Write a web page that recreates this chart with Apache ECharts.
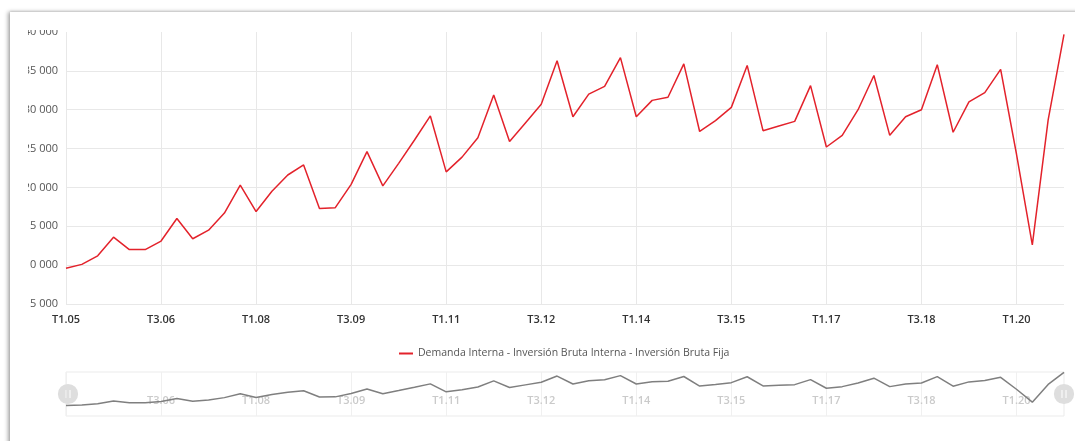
<!DOCTYPE html>
<html>
<head>
<meta charset="utf-8">
<script src="https://cdn.jsdelivr.net/npm/echarts@6/dist/echarts.min.js"></script>
<style>
  html, body { margin: 0; padding: 0; width: 1075px; height: 441px; background: #fff; overflow: hidden; }
  #card { position: absolute; left: 10px; top: 12px; width: 1100px; height: 470px; background: #fff;
          box-shadow: -2px 0 4px rgba(0,0,0,0.35), 0 -1px 2px rgba(0,0,0,0.08); }
  #chart { position: absolute; left: 28px; top: 30px; width: 1047px; height: 411px; }
</style>
</head>
<body>
<div id="card"></div>
<div id="chart"></div>
<script>
const categories = [
  'T1.05','T2.05','T3.05','T4.05','T1.06','T2.06','T3.06','T4.06',
  'T1.07','T2.07','T3.07','T4.07','T1.08','T2.08','T3.08','T4.08',
  'T1.09','T2.09','T3.09','T4.09','T1.10','T2.10','T3.10','T4.10',
  'T1.11','T2.11','T3.11','T4.11','T1.12','T2.12','T3.12','T4.12',
  'T1.13','T2.13','T3.13','T4.13','T1.14','T2.14','T3.14','T4.14',
  'T1.15','T2.15','T3.15','T4.15','T1.16','T2.16','T3.16','T4.16',
  'T1.17','T2.17','T3.17','T4.17','T1.18','T2.18','T3.18','T4.18',
  'T1.19','T2.19','T3.19','T4.19','T1.20','T2.20','T3.20','T4.20'
];
const seriesName = 'Demanda Interna - Inversión Bruta Interna - Inversión Bruta Fija';
const values = [
  9600, 10100, 11200, 13600, 12000, 12000, 13100, 16000,
  13400, 14500, 16700, 20300, 16900, 19500, 21600, 22900,
  17300, 17400, 20400, 24600, 20200, 23100, 26100, 29200,
  22000, 23900, 26400, 31900, 25900, 28300, 30700, 36300,
  29100, 32000, 33000, 36700, 29100, 31200, 31600, 35900,
  27200, 28600, 30300, 35700, 27300, 27900, 28500, 33100,
  25200, 26700, 30000, 34400, 26700, 29100, 30000, 35800,
  27100, 31000, 32200, 35200, 24300, 12600, 28700, 39700
];
const yMin = 5000, yMax = 40000, yStep = 5000;

const fmt = v => String(v).replace(/\B(?=(\d{3})+(?!\d))/g, ' ');
const FONT = '"Open Sans", "Noto Sans", sans-serif';

const chart = echarts.init(document.getElementById('chart'));
chart.setOption({
  animation: false,
  textStyle: { fontFamily: FONT },
  grid: [
    { left: 38, right: 11, top: 2, bottom: 137, outerBoundsMode: 'none', containLabel: false },
    { left: 38, right: 11, top: 342, height: 44, show: true, borderColor: '#ebebeb', borderWidth: 1, outerBoundsMode: 'none', containLabel: false }
  ],
  legend: {
    data: [seriesName],
    left: 366, top: 313,
    icon: 'rect', itemWidth: 14, itemHeight: 2,
    textStyle: { color: '#555', fontSize: 10.5, fontFamily: FONT }
  },
  xAxis: [
    {
      type: 'category', gridIndex: 0, data: categories, boundaryGap: false,
      axisLine: { show: false }, axisTick: { show: false },
      axisLabel: { interval: 5, color: '#333', fontSize: 11, fontWeight: 600, margin: 10, fontFamily: FONT },
      splitLine: { show: true, interval: 5, lineStyle: { color: '#e8e8e8', width: 1 } }
    },
    {
      type: 'category', gridIndex: 1, data: categories, boundaryGap: false,
      axisLine: { show: false }, axisTick: { show: false },
      axisLabel: { interval: 5, inside: true, showMinLabel: false, color: '#cacaca', fontSize: 11, fontWeight: 600, margin: 10, fontFamily: FONT },
      splitLine: { show: true, interval: 5, lineStyle: { color: '#f0f0f0', width: 1 } }
    }
  ],
  yAxis: [
    {
      type: 'value', gridIndex: 0, min: yMin, max: yMax, interval: yStep,
      axisLine: { show: false }, axisTick: { show: false },
      axisLabel: { color: '#555', fontSize: 11, margin: 8, formatter: fmt, fontFamily: FONT },
      splitLine: { show: true, showMaxLine: false, lineStyle: { color: '#e8e8e8', width: 1 } }
    },
    {
      type: 'value', gridIndex: 1, min: 0, max: yMax, show: false,
      splitLine: { show: false }
    }
  ],
  dataZoom: [{
    type: 'slider', xAxisIndex: 0, start: 0, end: 100,
    left: 38, right: 11, top: 342, height: 44,
    showDataShadow: false, showDetail: false, brushSelect: false,
    borderColor: 'transparent', backgroundColor: 'transparent',
    fillerColor: 'rgba(0,0,0,0)',
    moveHandleSize: 0,
    handleIcon: 'path://M0,-10A10,10,0,1,1,0,10A10,10,0,1,1,0,-10Z M-2.5,-4L-2.5,4L-1.5,4L-1.5,-4Z M1.5,-4L1.5,4L2.5,4L2.5,-4Z',
    handleSize: '46%',
    handleStyle: { color: '#dedede', borderColor: '#dedede', borderWidth: 0 },
    emphasis: { handleStyle: { color: '#dedede', borderColor: '#dedede' } }
  }],
  series: [
    {
      name: seriesName, type: 'line', xAxisIndex: 0, yAxisIndex: 0,
      data: values, symbol: 'none', smooth: false,
      lineStyle: { color: '#e3222b', width: 1.5 },
      itemStyle: { color: '#e3222b' }
    },
    {
      name: 'preview', type: 'line', xAxisIndex: 1, yAxisIndex: 1,
      data: values, symbol: 'none', silent: true,
      lineStyle: { color: '#7f7f7f', width: 1.5 },
      itemStyle: { color: '#7f7f7f' }
    }
  ]
});
</script>
</body>
</html>
